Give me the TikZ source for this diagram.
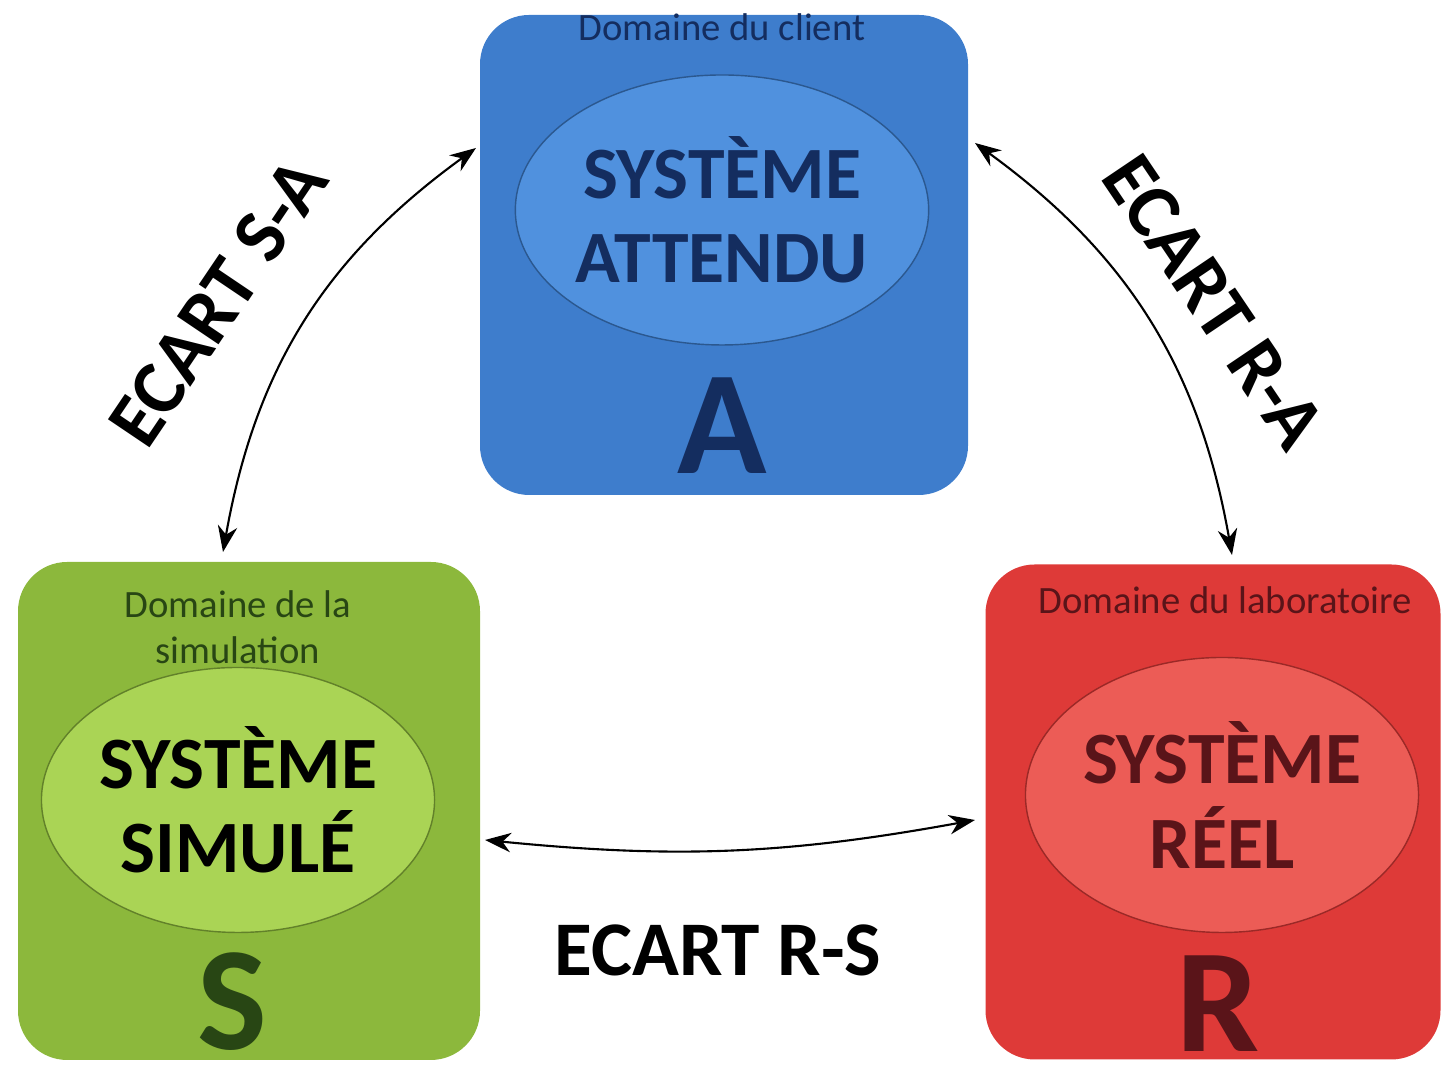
\documentclass[tikz,border=0pt]{standalone}
\usepackage{fontspec}
\setmainfont{Carlito}
\usepackage{tikz}
\usetikzlibrary{arrows.meta, positioning, shapes.geometric}
\definecolor{boxblue}{RGB}{62,125,204}
\definecolor{ellblue}{RGB}{80,145,222}
\definecolor{deepblue}{RGB}{20,45,95}
\definecolor{boxgreen}{RGB}{140,184,60}
\definecolor{ellgreen}{RGB}{170,212,85}
\definecolor{deepgreen}{RGB}{40,70,20}
\definecolor{boxred}{RGB}{222,58,56}
\definecolor{ellred}{RGB}{236,92,86}
\definecolor{deepred}{RGB}{90,20,25}

\begin{document}
\begin{tikzpicture}[
  >={Stealth[length=2.6mm]},
  every node/.style={font=\bfseries},
  dombox/.style={rounded corners=14pt, inner sep=0pt},
  sys/.style={ellipse, inner sep=0pt, font=\fontsize{21}{24}\bfseries, align=center},
  letter/.style={font=\fontsize{42}{42}\bfseries, inner sep=0pt, anchor=base},
  where/.style={font=\fontsize{11}{13}\selectfont, align=center},
  ecart/.style={font=\fontsize{22}{24}\bfseries, inner sep=1pt},
  gap/.style={<->, semithick, black}
]
\useasboundingbox (0,0) rectangle (14.43,10.72);
% the three domains
\node[dombox, fill=boxblue, minimum width=4.88cm, minimum height=4.80cm] (A) at (7.24,8.17) {};
\node[dombox, fill=boxgreen, minimum width=4.62cm, minimum height=4.98cm] (S) at (2.49,2.61) {};
\node[dombox, fill=boxred, minimum width=4.55cm, minimum height=4.95cm] (R) at (12.13,2.60) {};
% systems
\node[sys, fill=ellblue, draw=boxblue!70!black, text=deepblue, minimum width=3.75cm, minimum height=2.70cm] (sysA) at (7.22,8.62) {SYSTÈME\\ATTENDU};
\node[sys, fill=ellgreen, draw=boxgreen!70!black, text=black, minimum width=3.85cm, minimum height=2.65cm] (sysS) at (2.38,2.72) {SYSTÈME\\SIMULÉ};
\node[sys, fill=ellred, draw=boxred!70!black, text=deepred, minimum width=3.90cm, minimum height=2.75cm] (sysR) at (12.22,2.77) {SYSTÈME\\RÉEL};
% domain names
\node[where, text=deepblue] (dA) at (7.22,10.45) {Domaine du client};
\node[where, text=deepgreen] (dS) at (2.38,4.45) {Domaine de la\\simulation};
\node[where, text=deepred] (dR) at (12.25,4.72) {Domaine du laboratoire};
% letters
\node[letter, text=deepblue] (lA) at (7.22,5.98) {A};
\node[letter, text=deepgreen] (lS) at (2.32,0.22) {S};
\node[letter, text=deepred] (lR) at (12.18,0.20) {R};
% gaps
\coordinate (sA) at (2.23,5.20);
\coordinate (aS) at (4.76,9.24);
\coordinate (aR) at (9.75,9.29);
\coordinate (rA) at (12.32,5.17);
\coordinate (sR) at (4.85,2.32);
\coordinate (rS) at (9.75,2.52);
\draw[gap] (sA) to[bend left=22] (aS);
\draw[gap] (aR) to[bend left=22] (rA);
\draw[gap] (sR) to[bend right=8] (rS);
\node[ecart, rotate=56] (eSA) at (2.18,7.70) {ECART S-A};
\node[ecart, rotate=-56] (eRA) at (12.14,7.70) {ECART R-A};
\node[ecart] (eRS) at (7.18,1.22) {ECART R-S};
\end{tikzpicture}
\end{document}
